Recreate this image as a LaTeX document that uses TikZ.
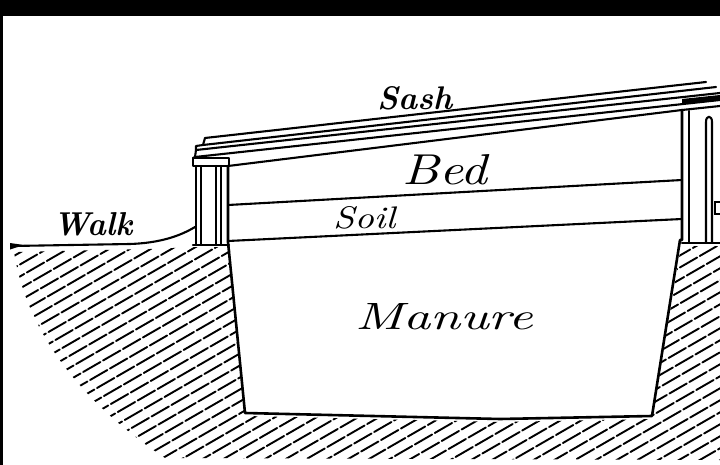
\documentclass[tikz,border=0pt]{standalone}
\usepackage{fontspec}
\begin{document}
\begin{tikzpicture}[x=1pt,y=-1pt,
  outline/.style={line width=2.6pt, line join=round, line cap=round},
  board/.style={line width=2.1pt, line join=round, line cap=round},
  thin/.style={line width=1.6pt, line cap=round},
  hatch/.style={line width=1.9pt, line cap=round},
  lbl/.style={inner sep=0pt, anchor=base west}]
\useasboundingbox (0,0) rectangle (720,465);

% dark strips along the top and left edges
\fill[black] (0,0) rectangle (720,16);
\fill[black] (0,0) rectangle (3,465);

% hatched earth around the pit
\begin{scope}
  \clip (14,252) -- (150,249) -- (196,247) -- (228,247) -- (230,250)
        -- (245,416) -- (500,422) -- (652,419) -- (681,246) -- (720,246)
        -- (720,460) -- (165,458) .. controls (70,395) and (25,322) .. (14,252) -- cycle;
  \foreach \c in {240,252,...,900} {
    \pgfmathsetmacro\ph{mod(\c*7,23)}
    \draw[hatch, dash pattern=on 20pt off 3pt, dash phase=\ph pt] (0,\c) -- ++(-30:1000);
  }
\end{scope}

% ground line of the walk
\fill (10,243) -- (24,245) -- (10,249.5) -- cycle;
\draw[board] (12,246) -- (130,244) .. controls (160,243) and (180,236) .. (195,227);

% manure pit
\draw[outline] (228,166) -- (228,242) -- (245,413) -- (500,419) -- (652,416) -- (680,240) -- (682,240) -- (682,110);

% soil and bed layers
\draw[board] (228,241) -- (682,219);
\draw[board] (228,205) -- (682,180);
\draw[board] (228,166) -- (682,110);

% left post and its cap
\draw[board] (196,166) -- (196,245);
\draw[board] (201,166) -- (201,245);
\draw[board] (216,166) -- (216,245);
\draw[board] (221,166) -- (221,245);
\draw[board] (193,245) -- (229,245);
\draw[board] (193,158) rectangle (229,166);

% sash boards
\draw[board] (205,138) -- (706,82);
\draw[board] (203,145) -- (716,87);
\draw[board] (196,150) -- (720,93);
\draw[board] (195,157) -- (720,100);
\draw[board] (205,138) -- (203,145) -- (196,146) -- (196,150);
\draw[board] (196,150) -- (195,157) -- (193,158);
\fill (682,99) -- (720,95) -- (720,100) -- (682,104) -- cycle;
\draw[board] (682,110) -- (720,106);

% right post
\draw[board] (689,111) -- (689,242);
\draw[board] (706,242) -- (706,122) .. controls (706,115) and (712,115) .. (712,122) -- (712,242);
\draw[board] (682,243) -- (720,243);
\draw[thin] (720,202) -- (715,202) -- (715,214) -- (720,214);

% labels
\node[lbl] (walk)   at (53,235)  {\resizebox{79pt}{23pt}{\bfseries\itshape Walk}};
\node[lbl] (sash)   at (377,110) {\resizebox{75pt}{23pt}{\bfseries\itshape Sash}};
\node[lbl] (bed)    at (402,185) {\resizebox{85pt}{30pt}{\itshape Bed}};
\node[lbl] (soil)   at (333,228) {\resizebox{62pt}{22pt}{\itshape Soil}};
\node[lbl] (manure) at (355,329) {\resizebox{178pt}{26pt}{\itshape Manure}};
\end{tikzpicture}
\end{document}
